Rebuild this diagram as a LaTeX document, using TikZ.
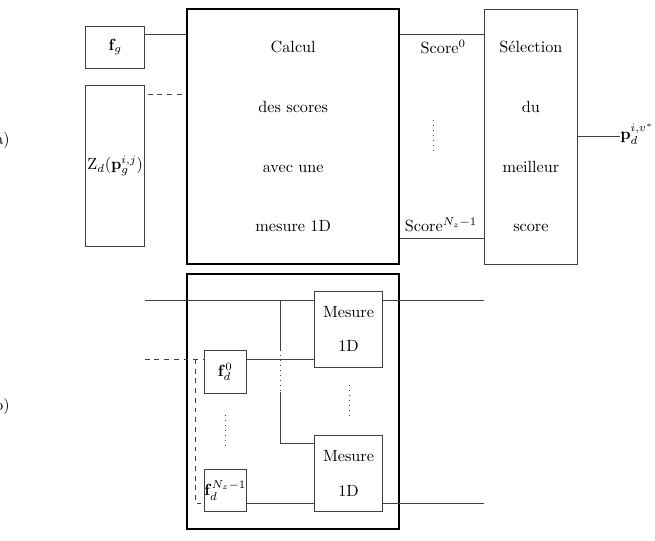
\documentclass[tikz,border=0pt]{standalone}
\usetikzlibrary{positioning}
\def\u{0.617pt}
\begin{document}
\begin{tikzpicture}[x=0.617pt, y=-0.617pt,
  ln/.style={draw=black!75, line width=0.55pt},
  box/.style={ln, inner sep=0pt, align=center},
  bigbox/.style={draw=black, line width=1.2pt, inner sep=0pt, align=center},
  sz/.style 2 args={minimum width=#1*\u, minimum height=#2*\u},
  dashln/.style={ln, dashed},
  dotln/.style={draw=black!75, line width=0.55pt, dash pattern=on 0.55pt off 2.5pt},
  lbl/.style={inner sep=0pt}]
\useasboundingbox (0,0) rectangle (655,540);

% ---------- part a ----------
\node[lbl, anchor=east] (la) at (10,140) {a)};
\node[box, sz={59}{42.3}] (fg) at (115.2,47.2) {$\mathbf{f}_g$};
\node[box, sz={59}{161}] (zd) at (115.2,166.2) {$\mathrm{Z}_d(\mathbf{p}_g^{i,j})$};
\node[bigbox, sz={212.3}{255}] (calc) at (293.2,136.5)
  {Calcul\\[24.9pt]des scores\\[24.9pt]avec une\\[24.9pt]mesure 1D};
\node[box, sz={93.7}{255}] (sel) at (530.9,136.5)
  {Sélection\\[24.9pt]du\\[24.9pt]meilleur\\[24.9pt]score};
\node[lbl, anchor=west] (out) at (620,134) {$\mathbf{p}_d^{i,v^*}$};
\node[lbl] (s0) at (443.3,46.7) {Score$^0$};
\node[lbl] (sN) at (441,225) {Score$^{N_z-1}$};

\coordinate (ya) at (0,34);
\coordinate (yd) at (147.7,94);
\coordinate (yb) at (0,238.3);
\coordinate (yo) at (0,136);
\coordinate (da1) at (433.3,120);
\coordinate (da2) at (433.3,151.7);

\draw[ln] (fg.east |- ya) -- (calc.west |- ya);
\draw[dashln] (yd) -- (calc.west |- yd);
\draw[ln] (calc.east |- ya) -- (sel.west |- ya);
\draw[ln] (calc.east |- yb) -- (sel.west |- yb);
\draw[ln] (sel.east |- yo) -- (out.west |- yo);
\draw[dotln] (da1) -- (da2);

% ---------- part b ----------
\node[lbl, anchor=east] (lb) at (10,406.7) {b)};
\node[bigbox, sz={212.3}{255}] (bb) at (293.2,401.5) {};
\node[box, sz={42.7}{43.3}] (fd0) at (225.3,371.7) {$\mathbf{f}_d^0$};
\node[box, sz={42.7}{42.4}] (fdN) at (225.3,490.5) {$\mathbf{f}_d^{N_z-1}$};
\node[box, sz={68.4}{76.3}] (m1) at (348.5,329.2) {Mesure\\[9.2pt]1D};
\node[box, sz={68.4}{76.7}] (m2) at (348.5,473.4) {Mesure\\[9.2pt]1D};

\coordinate (tl) at (144.7,300);
\coordinate (tr) at (484.3,300);
\coordinate (dl) at (144.7,359);
\coordinate (br) at (484.3,503.3);
\coordinate (v1) at (280.7,300);
\coordinate (v2) at (280.7,350);
\coordinate (v3) at (280.7,392);
\coordinate (v4) at (280.7,443.3);
\coordinate (dv1) at (195,359);
\coordinate (dv2) at (195,503.3);
\coordinate (df1) at (225.7,415);
\coordinate (df2) at (225.7,445);
\coordinate (dm1) at (349,385);
\coordinate (dm2) at (349,415.7);

\draw[ln] (tl) -- (m1.west |- tl);
\draw[ln] (m1.east |- tr) -- (tr);
\draw[ln] (v1) -- (v2);
\draw[dotln] (v2) -- (v3);
\draw[ln] (v3) -- (v4) -- (m2.west |- v4);
\draw[dashln] (dl) -- (fd0.west |- dl);
\draw[dashln] (dv1) -- (dv2) -- (fdN.west |- dv2);
\draw[ln] (fd0.east |- dl) -- (m1.west |- dl);
\draw[ln] (fdN.east |- br) -- (m2.west |- br);
\draw[ln] (m2.east |- br) -- (br);
\draw[dotln] (df1) -- (df2);
\draw[dotln] (dm1) -- (dm2);
\end{tikzpicture}
\end{document}
